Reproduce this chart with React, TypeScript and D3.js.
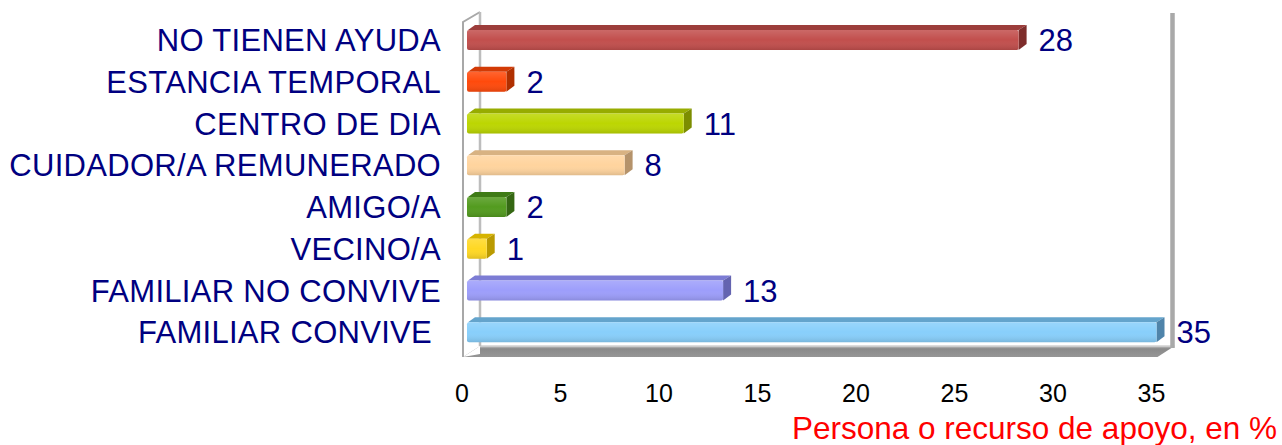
import React, { useEffect } from 'react'
import { scaleLinear, scaleBand } from 'd3'

// categories top -> bottom, as they appear in the chart
const categories = [
  'NO TIENEN AYUDA',
  'ESTANCIA TEMPORAL',
  'CENTRO DE DIA',
  'CUIDADOR/A REMUNERADO',
  'AMIGO/A',
  'VECINO/A',
  'FAMILIAR NO CONVIVE',
  'FAMILIAR CONVIVE ',
]
const values = [28, 2, 11, 8, 2, 1, 13, 35]
const ticks = [0, 5, 10, 15, 20, 25, 30, 35]
const axisTitle = 'Persona o recurso de apoyo, en %'

// front / top / side shades for each bar
const frontColors = ['#C24F4D', '#FF4A0C', '#BCD602', '#FFD49E', '#539B1F', '#FFD824', '#9D9EFB', '#88CFFB']
const topColors = ['#9C3D3B', '#D23A05', '#97AC00', '#D8B282', '#3F7B16', '#D6B300', '#7C7CD4', '#64A4CC']
const sideColors = ['#7E2D2B', '#B03000', '#7C8D00', '#B5936B', '#356713', '#BA9A00', '#6464B0', '#4F84AA']

const W = 1282
const H = 445
const font = '"Liberation Sans", Arial, sans-serif'
const navy = '#000080'

const App = () => {
  useEffect(() => {
    document.body.style.margin = '0'
  }, [])

  const x = scaleLinear().domain([0, 35]).range([467, 467 + 35 * 19.7])
  const y = scaleBand().domain(categories).range([19, 353]).padding(0)

  // depth of the chart box and of each bar
  const wallDx = 17, wallDy = -11
  const barDx = 8, barDy = -5
  const barH = 20

  const floorY = 357
  const topY = 22
  const left = 463
  const right = x(35) + 1

  return (
    <svg width={W} height={H} style={{ position: 'absolute', left: 0, top: 0, background: '#fff' }}>
      <defs>
        <linearGradient id="floorGrad" x1="0" y1="0" x2="0" y2="1">
          <stop offset="0" stopColor="#c8c8c8" />
          <stop offset="0.25" stopColor="#8a8a8a" />
          <stop offset="1" stopColor="#969696" />
        </linearGradient>
        <linearGradient id="shine" x1="0" y1="0" x2="0" y2="1">
          <stop offset="0" stopColor="#fff" stopOpacity="0.15" />
          <stop offset="0.5" stopColor="#fff" stopOpacity="0" />
          <stop offset="1" stopColor="#000" stopOpacity="0.12" />
        </linearGradient>
      </defs>

      {/* floor */}
      <polygon
        points={`${left},${floorY} ${right},${floorY} ${right + wallDx},${floorY + wallDy} ${left + wallDx},${floorY + wallDy}`}
        fill="url(#floorGrad)"
      />
      <line x1={left + wallDx} x2={right + wallDx} y1={floorY + wallDy} y2={floorY + wallDy} stroke="#d0d0d0" strokeWidth={1.5} />
      <polygon
        points={`${left},${floorY} ${left + wallDx},${floorY + wallDy} ${left + wallDx},${floorY - 3}`}
        fill="#fff"
      />

      {/* side wall */}
      <polyline
        points={`${left},${floorY} ${left},${topY} ${left + wallDx},${topY + wallDy + 1}`}
        fill="none" stroke="#a8a8a8" strokeWidth={2}
      />
      <line x1={left + wallDx} x2={left + wallDx} y1={topY + wallDy + 1} y2={floorY + wallDy} stroke="#bdbdbd" strokeWidth={2.5} />
      {/* back wall right edge */}
      <line x1={right + wallDx - 2} x2={right + wallDx - 2} y1={topY + wallDy + 2} y2={floorY + wallDy + 2} stroke="#a9a9a9" strokeWidth={4.5} />

      {/* bars */}
      {categories.map((c, i) => {
        const cy = (y(c) as number) + y.bandwidth() / 2
        const x0 = x(0)
        const x1 = x(values[i])
        const t = cy - barH / 2
        const b = cy + barH / 2
        return (
          <g key={c}>
            <polygon
              points={`${x0 + 1},${t} ${x1},${t} ${x1 + barDx},${t + barDy} ${x0 + barDx},${t + barDy}`}
              fill={topColors[i]}
            />
            <polygon
              points={`${x1},${t} ${x1 + barDx},${t + barDy} ${x1 + barDx},${b + barDy - 1} ${x1},${b}`}
              fill={sideColors[i]}
            />
            <rect x={x0} y={t} width={x1 - x0} height={barH} rx={2} fill={frontColors[i]} />
            <rect x={x0} y={t} width={x1 - x0} height={barH} rx={2} fill="url(#shine)" />
            <text
              x={x1 + barDx + 12}
              y={cy}
              dy="0.36em"
              fontFamily={font}
              fontSize={31}
              fill={navy}
            >
              {values[i]}
            </text>
          </g>
        )
      })}

      {/* category labels */}
      {categories.map((c) => (
        <text
          key={c}
          x={441}
          y={(y(c) as number) + y.bandwidth() / 2}
          dy="0.36em"
          textAnchor="end"
          fontFamily={font}
          fontSize={31}
          letterSpacing={0.3}
          fill={navy}
          style={{ whiteSpace: 'pre' }}
        >
          {c}
        </text>
      ))}

      {/* x ticks */}
      {ticks.map((t) => (
        <text
          key={t}
          x={x(t) - 5}
          y={402}
          textAnchor="middle"
          fontFamily={font}
          fontSize={25}
          fill="#000"
        >
          {t}
        </text>
      ))}

      <text x={1277} y={439} textAnchor="end" fontFamily={font} fontSize={31.5} fill="#ff0000">
        {axisTitle}
      </text>
    </svg>
  )
}

export default App
